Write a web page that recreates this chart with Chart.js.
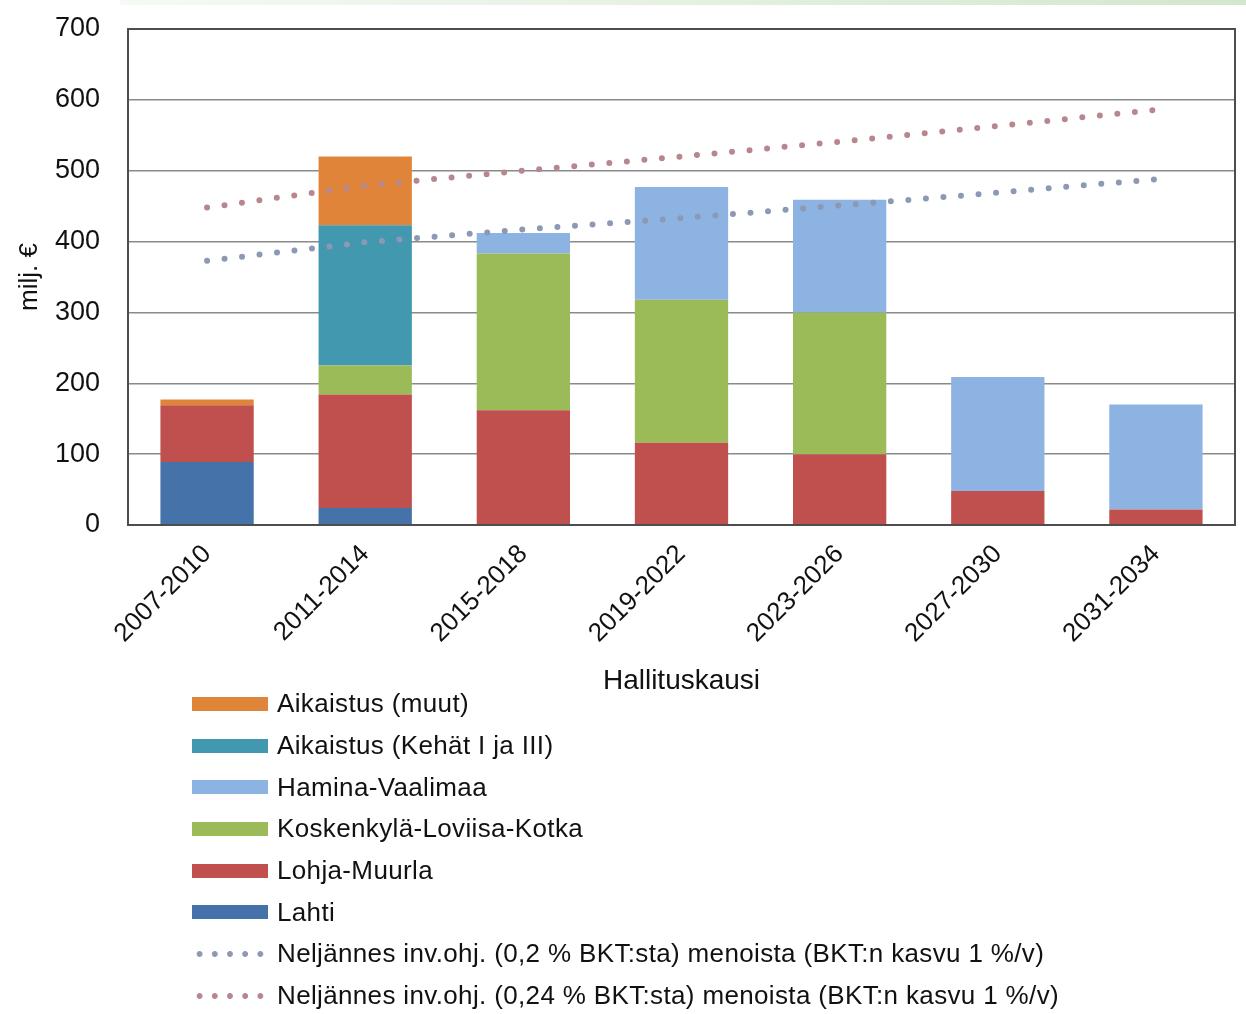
<!DOCTYPE html>
<html lang="fi">
<head>
<meta charset="UTF-8">
<title>Hallituskausi</title>
<script src="https://cdn.jsdelivr.net/npm/chart.js@4.4.0/dist/chart.umd.min.js"></script>
<style>
    body { margin: 0; background: #fff; font-family: 'Liberation Sans', Arial, sans-serif; }
    #wrap { position: relative; width: 1246px; height: 1014px; overflow: hidden; }
    #topline { position: absolute; left: 120px; top: 0; width: 1126px; height: 5px;
               background: linear-gradient(to right, #f6faf5, #d3e7cd); }
    #chartBox { position: absolute; left: 0; top: 0; width: 1246px; height: 700px; }
    #legend { position: absolute; left: 192px; top: 683px; }
    .item { height: 41.7px; display: flex; align-items: center; font-size: 26px; color: #111;
            white-space: nowrap; letter-spacing: 0.35px; }
    .sw { width: 76px; height: 14px; margin-right: 9px; flex: none; }
</style>
</head>
<body>
<div id="wrap">
    <div id="topline"></div>
    <div id="chartBox"><canvas id="chart" width="1246" height="700"></canvas></div>
    <div id="legend"></div>
</div>

<script>
// categories (hallituskausi)
const categories = ['2007-2010', '2011-2014', '2015-2018', '2019-2022', '2023-2026', '2027-2030', '2031-2034'];

// stacked bars, milj. €
const lahti       = [89, 24, 0, 0, 0, 0, 0];
const lohjaMuurla = [80, 160, 162, 116, 100, 48, 22];
const koskenkyla  = [0, 41, 221, 202, 200, 0, 0];
const hamina      = [0, 0, 29, 159, 159, 161, 148];
const kehat       = [0, 198, 0, 0, 0, 0, 0];
const muut        = [8, 97, 0, 0, 0, 0, 0];

// dotted reference lines
const inv020 = [373, 399, 417, 433, 451, 469, 488];
const inv024 = [448, 479, 500, 520, 541, 563, 586];

const yTicks = [0, 100, 200, 300, 400, 500, 600, 700];

const FONT = "'Liberation Sans', Arial, sans-serif";

function bar(label, data, color) {
    return {
        type: 'bar', label: label, data: data, backgroundColor: color,
        order: 1, stack: 'bars', categoryPercentage: 1, barPercentage: 0.59
    };
}
function dots(label, data, color, stack) {
    return {
        type: 'line', label: label, data: data, borderColor: color, backgroundColor: color,
        borderWidth: 6, borderDash: [0, 17.6], borderCapStyle: 'round',
        pointRadius: 0, tension: 0, fill: false, order: 0, stack: stack
    };
}

const datasets = [
    bar('Lahti', lahti, '#4572A8'),
    bar('Lohja-Muurla', lohjaMuurla, '#C0504D'),
    bar('Koskenkylä-Loviisa-Kotka', koskenkyla, '#9BBB59'),
    bar('Hamina-Vaalimaa', hamina, '#8DB3E2'),
    bar('Aikaistus (Kehät I ja III)', kehat, '#4198AF'),
    bar('Aikaistus (muut)', muut, '#E0843A'),
    dots('Neljännes inv.ohj. (0,2 % BKT:sta) menoista (BKT:n kasvu 1 %/v)', inv020, '#8C98B4', 'l1'),
    dots('Neljännes inv.ohj. (0,24 % BKT:sta) menoista (BKT:n kasvu 1 %/v)', inv024, '#B8878E', 'l2')
];

// plot area frame
const frame = {
    id: 'frame',
    afterDatasetsDraw(chart) {
        const a = chart.chartArea, c = chart.ctx;
        c.save();
        c.strokeStyle = '#4d4d4d';
        c.lineWidth = 2;
        c.strokeRect(a.left, a.top, a.right - a.left, a.bottom - a.top);
        c.restore();
    }
};

const ctx = document.getElementById('chart').getContext('2d');
const chart = new Chart(ctx, {
    data: { labels: categories, datasets: datasets },
    plugins: [frame],
    options: {
        responsive: false,
        animation: false,
        layout: { padding: { left: 0, top: 29, right: 11, bottom: 0 } },
        plugins: { legend: { display: false }, tooltip: { enabled: false } },
        scales: {
            x: {
                stacked: true,
                grid: { display: false, drawTicks: false },
                border: { display: true, color: '#4d4d4d', width: 2 },
                ticks: {
                    color: '#111', minRotation: 45, maxRotation: 45, padding: 14,
                    font: { family: FONT, size: 26 }
                },
                title: {
                    display: true, text: 'Hallituskausi', color: '#111',
                    font: { family: FONT, size: 28 }, padding: { top: 0, bottom: 2 }
                },
                afterFit(scale) { scale.height = 175; }
            },
            y: {
                stacked: true,
                min: 0, max: 700,
                afterBuildTicks(scale) { scale.ticks = yTicks.map(v => ({ value: v })); },
                grid: { color: '#8a8a8a', lineWidth: 1.5, drawTicks: false },
                border: { display: true, color: '#4d4d4d', width: 2 },
                ticks: { color: '#111', padding: 28, font: { family: FONT, size: 27 } },
                title: {
                    display: true, text: 'milj. €', color: '#111',
                    font: { family: FONT, size: 26 }, padding: { top: 14, bottom: 0 }
                },
                afterFit(scale) {
                    scale.width = 128;
                    scale.paddingTop = 0;
                    scale.paddingBottom = 0;
                }
            }
        }
    }
});

// legend, Excel order: bars top to bottom, then the two lines
const legendOrder = [5, 4, 3, 2, 1, 0, 6, 7];
const legendEl = document.getElementById('legend');
legendOrder.forEach(i => {
    const ds = chart.data.datasets[i];
    const row = document.createElement('div');
    row.className = 'item';
    const sw = document.createElement('div');
    sw.className = 'sw';
    if (ds.type === 'line') {
        sw.style.height = '8px';
        sw.style.background = 'radial-gradient(circle, ' + ds.borderColor + ' 2.6px, transparent 3.2px) 0 0 / 15.2px 8px repeat-x';
    } else {
        sw.style.background = ds.backgroundColor;
    }
    const tx = document.createElement('span');
    tx.textContent = ds.label;
    row.appendChild(sw);
    row.appendChild(tx);
    legendEl.appendChild(row);
});
</script>
</body>
</html>
